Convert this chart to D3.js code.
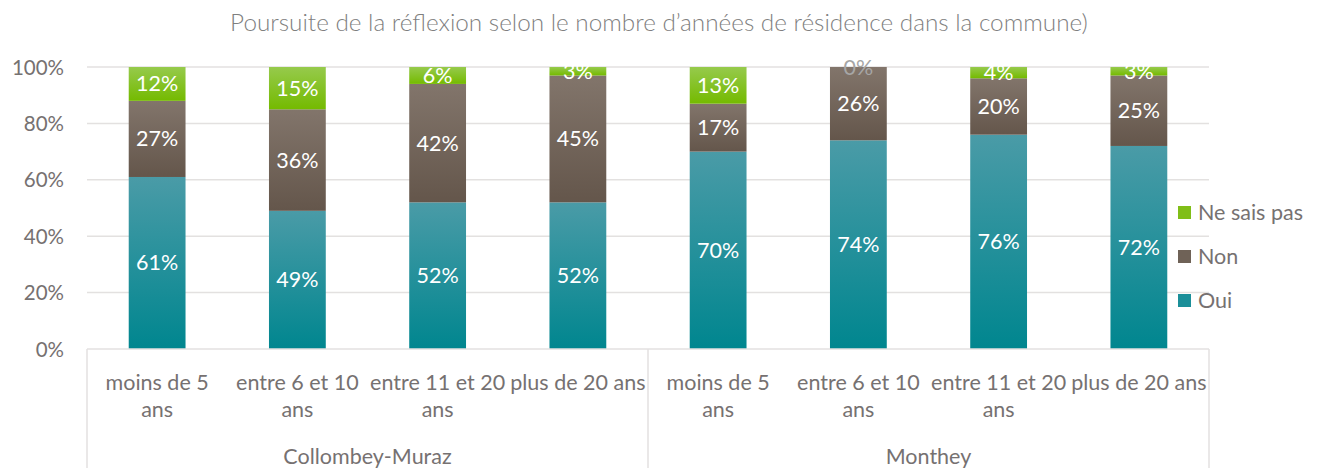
<!DOCTYPE html>
<html>
<head>
<meta charset="utf-8">
<script src="https://cdn.jsdelivr.net/npm/d3@7"></script>
<style>
  body { margin: 0; background: #fff; }
  svg { display: block; font-family: Lato, "Open Sans", sans-serif; }
</style>
</head>
<body>
<svg width="1318" height="468"></svg>
<script>
// data
var groups = ["Collombey-Muraz", "Monthey"];
var periods = ["moins de 5 ans", "entre 6 et 10 ans", "entre 11 et 20 ans", "plus de 20 ans"];
var periodLines = [["moins de 5", "ans"], ["entre 6 et 10", "ans"], ["entre 11 et 20", "ans"], ["plus de 20 ans"]];
var oui = [61, 49, 52, 52, 70, 74, 76, 72];
var non = [27, 36, 42, 45, 17, 26, 20, 25];
var nsp = [12, 15, 6, 3, 13, 0, 4, 3];
var yTicks = [0, 20, 40, 60, 80, 100];
var seriesNames = ["Oui", "Non", "Ne sais pas"];

var title = "Poursuite de la réflexion selon le nombre d\u2019années de résidence dans la commune)";

var svg = d3.select("svg");
var plotLeft = 87, plotRight = 1209, plotTop = 67, plotBottom = 349;
var textColor = "#767171";
var fs = 21.5;

var cats = [];
groups.forEach(function(g, gi) {
	periods.forEach(function(p, pi) {
		cats.push({ key: g + "|" + p, group: g, lines: periodLines[pi], idx: gi * 4 + pi });
	});
});

var x = d3.scaleBand().domain(cats.map(d => d.key)).range([plotLeft, plotRight]).paddingInner(0.595).paddingOuter(0.2975);
var y = d3.scaleLinear().domain([0, 100]).range([plotBottom, plotTop]);

// gradients
var grads = [
	{ id: "gOui", top: "#4a9ba7", bot: "#00868f" },
	{ id: "gNon", top: "#82756b", bot: "#64564b" },
	{ id: "gNsp", top: "#96ca4c", bot: "#74ba00" }
];
var defs = svg.append("defs");
grads.forEach(function(g) {
	var lg = defs.append("linearGradient").attr("id", g.id)
		.attr("x1", 0).attr("y1", 0).attr("x2", 0).attr("y2", 1);
	lg.append("stop").attr("offset", "0%").attr("stop-color", g.top);
	lg.append("stop").attr("offset", "100%").attr("stop-color", g.bot);
});
var legendColors = ["#1b8f99", "#6f6257", "#80be18"];

// title
svg.append("text")
	.attr("x", 659).attr("y", 31)
	.attr("text-anchor", "middle")
	.attr("font-size", 24.3)
	.attr("font-weight", 300)
	.attr("fill", "#7f7f7f")
	.text(title);

// grid lines
svg.append("g").selectAll("line")
	.data(yTicks.filter(d => d > 0))
	.enter().append("line")
	.attr("x1", plotLeft).attr("x2", plotRight)
	.attr("y1", d => y(d)).attr("y2", d => y(d))
	.attr("stroke", "#e3e1e0").attr("stroke-width", 1.5);

// y axis labels
svg.append("g").selectAll("text")
	.data(yTicks)
	.enter().append("text")
	.attr("x", 64).attr("y", d => y(d) + 7.5)
	.attr("text-anchor", "end")
	.attr("font-size", 20.5)
	.attr("fill", textColor)
	.text(d => d + "%");

// stacks
var stackData = cats.map(function(c) {
	return { key: c.key, Oui: oui[c.idx], Non: non[c.idx], "Ne sais pas": nsp[c.idx] };
});
var stacked = d3.stack().keys(seriesNames)(stackData);

var layers = svg.append("g").selectAll("g")
	.data(stacked)
	.enter().append("g")
	.attr("fill", (d, i) => "url(#" + grads[i].id + ")");

layers.selectAll("rect")
	.data(d => d)
	.enter().append("rect")
	.attr("x", d => x(d.data.key))
	.attr("width", x.bandwidth())
	.attr("y", d => y(d[1]))
	.attr("height", d => y(d[0]) - y(d[1]));

// data labels
stacked.forEach(function(layer) {
	svg.append("g").selectAll("text")
		.data(layer)
		.enter().append("text")
		.attr("x", d => x(d.data.key) + x.bandwidth() / 2)
		.attr("y", d => (y(d[0]) + y(d[1])) / 2 + 7.5)
		.attr("text-anchor", "middle")
		.attr("font-size", fs)
		.attr("fill", d => (d[1] - d[0]) === 0 ? "#a6a6a6" : "#ffffff")
		.text(d => Math.round(d[1] - d[0]) + "%");
});

// category axis
var axisG = svg.append("g");
axisG.append("line")
	.attr("x1", plotLeft).attr("x2", plotRight)
	.attr("y1", plotBottom).attr("y2", plotBottom)
	.attr("stroke", "#e3e1e0").attr("stroke-width", 1.5);
var sepX = [plotLeft, x(cats[4].key) - x.step() * x.paddingInner() / 2, plotRight];
axisG.selectAll("line.sep")
	.data(sepX)
	.enter().append("line")
	.attr("class", "sep")
	.attr("x1", d => d).attr("x2", d => d)
	.attr("y1", plotBottom).attr("y2", 468)
	.attr("stroke", "#e3e1e0").attr("stroke-width", 1.5);

cats.forEach(function(c) {
	var t = axisG.append("text")
		.attr("x", x(c.key) + x.bandwidth() / 2)
		.attr("y", 390)
		.attr("text-anchor", "middle")
		.attr("font-size", fs)
		.attr("fill", textColor);
	c.lines.forEach(function(l, li) {
		t.append("tspan")
			.attr("x", x(c.key) + x.bandwidth() / 2)
			.attr("dy", li === 0 ? 0 : 27)
			.text(l);
	});
});

groups.forEach(function(g, gi) {
	axisG.append("text")
		.attr("x", (sepX[gi] + sepX[gi + 1]) / 2)
		.attr("y", 464)
		.attr("text-anchor", "middle")
		.attr("font-size", fs)
		.attr("fill", textColor)
		.text(g);
});

// legend
var legend = svg.append("g").selectAll("g")
	.data(seriesNames.slice().reverse())
	.enter().append("g")
	.attr("transform", (d, i) => "translate(1178," + (206 + i * 44) + ")");
legend.append("rect")
	.attr("width", 13).attr("height", 13)
	.attr("fill", (d, i) => legendColors[2 - i]);
legend.append("text")
	.attr("x", 20).attr("y", 14)
	.attr("font-size", fs)
	.attr("fill", textColor)
	.text(d => d);
</script>
</body>
</html>
